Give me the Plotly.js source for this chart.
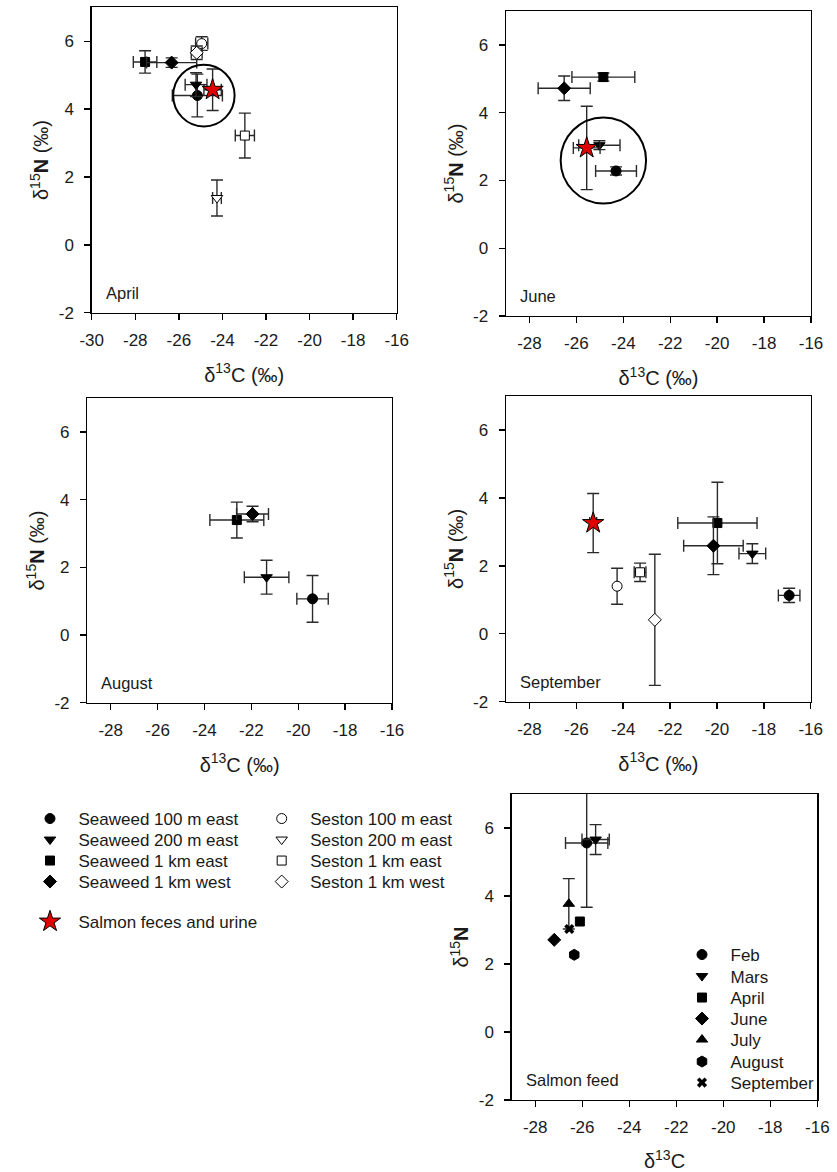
<!DOCTYPE html>
<html>
<head>
<meta charset="utf-8">
<script src="https://cdn.plot.ly/plotly-3.0.1.min.js"></script>
<style>html,body{margin:0;padding:0;background:#fff;}#chart{width:837px;height:1172px;}</style>
</head>
<body>
<div id="chart"></div>
<script>
// ---------- DATA ----------
const siteNames = ['Seaweed 100 m east','Seaweed 200 m east','Seaweed 1 km east','Seaweed 1 km west',
                   'Seston 100 m east','Seston 200 m east','Seston 1 km east','Seston 1 km west',
                   'Salmon feces and urine'];
// order of values in each panel array follows siteNames; null = not sampled
const aprilC   = [-25.15, -25.21, -27.55, -26.33, -24.95, -24.25, -22.97, -25.18, -24.45];
const aprilN   = [  4.40,   4.72,   5.39,   5.37,   5.93,   1.38,   3.22,   5.66,   4.57];
const aprilCsd = [  1.15,   0.50,   0.54,   1.15,   0.28,   0.20,   0.44,   0.25,   0.40];
const aprilNsd = [  0.63,   0.35,   0.33,   0.14,   0.20,   0.53,   0.66,   0.20,   0.61];

const juneC    = [-24.31, -25.02, -24.85, -26.52, null, null, null, null, -25.56];
const juneN    = [  2.28,   3.04,   5.05,   4.72, null, null, null, null,   2.96];
const juneCsd  = [  0.87,   0.88,   1.34,   1.11, null, null, null, null,   0.57];
const juneNsd  = [  0.12,   0.13,   0.12,   0.36, null, null, null, null,   1.23];

const augC     = [-19.39, -21.35, -22.62, -21.95, null, null, null, null, null];
const augN     = [  1.07,   1.71,   3.40,   3.58, null, null, null, null, null];
const augCsd   = [  0.67,   0.95,   1.15,   0.68, null, null, null, null, null];
const augNsd   = [  0.69,   0.50,   0.53,   0.23, null, null, null, null, null];

const sepC     = [-16.92, -18.49, -19.98, -20.15, -24.26, null, -23.28, -22.65, -25.28];
const sepN     = [  1.13,   2.36,   3.26,   2.59,   1.40, null,   1.81,   0.41,   3.26];
const sepCsd   = [  0.46,   0.57,   1.69,   1.27,   0.00, null,   0.25,   0.00,   0.15];
const sepNsd   = [  0.21,   0.29,   1.20,   0.85,   0.53, null,   0.27,   1.93,   0.87];

const feedMonths = ['Feb','Mars','April','June','July','August','September'];
const feedC      = [-25.81, -25.43, -26.10, -27.19, -26.57, -26.34, -26.55];
const feedN      = [  5.56,   5.66,   3.25,   2.71,   3.77,   2.27,   3.03];
const feedCsd    = [  0.90,   0.58,   0,      0,      0,      0,      0   ];
const feedNsd    = [  1.89,   0.44,   0,      0,      0.74,   0,      0   ];

const panelLabels = ['April','June','August','September','Salmon feed'];
const xTickVals = [-30,-28,-26,-24,-22,-20,-18,-16];
const xTickText = ['-30','-28','-26','-24','-22','-20','-18','-16'];
const yTickVals = [-2,0,2,4,6];
const yTickText = ['-2','0','2','4','6'];

// encircled groups (center C, center N, radius C, radius N)
const circleApril = [-24.85, 4.40, 1.41, 0.91];
const circleJune  = [-24.85, 2.59, 1.82, 1.27];

// ---------- STYLE ----------
const W = 837, H = 1172;
const FONT = 'Liberation Sans, Arial, sans-serif';
const siteSymbols = ['circle','triangle-down','square','diamond','circle','triangle-down','square','diamond','star'];
const siteFill    = ['#000','#000','#000','#000','#fff','#fff','#fff','#fff','#e00000'];
const siteSize    = [10,10,9,10,10,10,9,10,16];
const feedSymbols = ['circle','triangle-down','square','diamond','triangle-up','hexagon','x'];
const feedSize    = [10,10,9,10,10,11,9];
// legend symbol positions (px): [symbolX, rowY]
const siteLegPos = [[50,819],[50,840],[50,861],[50,882],[281.7,819],[281.7,840],[281.7,861],[281.7,882],[50,922]];
const feedLegPos = [[702,955],[702,976.5],[702,998],[702,1019],[702,1040],[702,1062],[702,1083]];

// panel boxes in pixels: [left, right, top, bottom]
const boxes = [[91.7,396.7,7.3,312.7],[506,811,11,316],[87.3,392,398.3,702.7],[506,810.7,396,701.7],[511.7,817.3,794,1100]];
const xRanges = [[-30,-16],[-29,-16],[-29,-16],[-29,-16],[-29,-16]];
const ytitles = ['δ<sup>15</sup><b>N</b> (‰)','δ<sup>15</sup><b>N</b> (‰)','δ<sup>15</sup><b>N</b> (‰)','δ<sup>15</sup><b>N</b> (‰)','δ<sup>15</sup><b>N</b>'];
const xtitles = ['δ<sup>13</sup>C (‰)','δ<sup>13</sup>C (‰)','δ<sup>13</sup>C (‰)','δ<sup>13</sup>C (‰)','δ<sup>13</sup>C'];

const traces = [];
const shown = {};
const panels = [[aprilC,aprilN,aprilCsd,aprilNsd],[juneC,juneN,juneCsd,juneNsd],[augC,augN,augCsd,augNsd],[sepC,sepN,sepCsd,sepNsd]];
const ebColor = '#2a2a2a';
const legId = k => k === 0 ? 'legend' : 'legend' + (k + 1);
panels.forEach((p, pi) => {
  const ax = pi === 0 ? '' : String(pi+1);
  siteNames.forEach((name, si) => {
    if (p[0][si] === null) return;
    const first = !shown[name];
    shown[name] = true;
    traces.push({
      type: 'scatter', mode: 'markers', name: name,
      x: [p[0][si]], y: [p[1][si]],
      xaxis: 'x' + ax, yaxis: 'y' + ax,
      legend: legId(si), legendgroup: name, showlegend: first,
      error_x: {type: 'data', array: [p[2][si]], visible: p[2][si] > 0, color: ebColor, thickness: 1.4, width: 6},
      error_y: {type: 'data', array: [p[3][si]], visible: p[3][si] > 0, color: ebColor, thickness: 1.4, width: 6},
      marker: {symbol: siteSymbols[si], size: siteSize[si], color: siteFill[si], line: {color: '#000', width: 1}}
    });
  });
});
feedMonths.forEach((m, i) => {
  traces.push({
    type: 'scatter', mode: 'markers', name: m,
    x: [feedC[i]], y: [feedN[i]], xaxis: 'x5', yaxis: 'y5', legend: legId(siteNames.length + i),
    error_x: {type: 'data', array: [feedCsd[i]], visible: feedCsd[i] > 0, color: ebColor, thickness: 1.4, width: 6},
    error_y: {type: 'data', array: [feedNsd[i]], visible: feedNsd[i] > 0, color: ebColor, thickness: 1.4, width: 6},
    marker: {symbol: feedSymbols[i], size: feedSize[i], color: '#000', line: {color: '#000', width: m === 'September' ? 0 : 1}}
  });
});

const layout = {
  width: W, height: H,
  margin: {l: 0, r: 0, t: 0, b: 0},
  paper_bgcolor: '#fff', plot_bgcolor: '#fff',
  font: {family: FONT, size: 17, color: '#1a1a1a'},
  showlegend: true,
  shapes: [], annotations: []
};
boxes.forEach((b, i) => {
  const ax = i === 0 ? '' : String(i+1);
  layout['xaxis' + ax] = {
    domain: [b[0]/W, b[1]/W], range: xRanges[i], anchor: 'y' + ax,
    tickvals: xTickVals, ticktext: xTickText, ticks: 'outside', ticklen: 6, tickwidth: 1.4, tickcolor: '#000',
    ticklabelstandoff: 5,
    showline: true, linecolor: '#000', linewidth: 1.4, mirror: true,
    showgrid: false, zeroline: false, tickfont: {size: 17},
    title: {text: xtitles[i], font: {size: 20}, standoff: 19}
  };
  layout['yaxis' + ax] = {
    domain: [1 - b[3]/H, 1 - b[2]/H], range: [-2, 7], anchor: 'x' + ax,
    tickvals: yTickVals, ticktext: yTickText, ticks: 'outside', ticklen: 6, tickwidth: 1.4, tickcolor: '#000',
    ticklabelstandoff: 7,
    showline: true, linecolor: '#000', linewidth: 1.4, mirror: true,
    showgrid: false, zeroline: false, tickfont: {size: 17},
    title: {text: ytitles[i], font: {size: 20}, standoff: 4}
  };
  layout.annotations.push({
    text: panelLabels[i], xref: 'x' + ax + ' domain', yref: 'y' + ax + ' domain',
    x: 0.04, y: 0.065, xanchor: 'left', yanchor: 'middle', showarrow: false, font: {size: 16.5}
  });
});
[[circleApril, ''], [circleJune, '2']].forEach(([c, ax]) => {
  layout.shapes.push({type: 'circle', xref: 'x' + ax, yref: 'y' + ax,
    x0: c[0]-c[2], x1: c[0]+c[2], y0: c[1]-c[3], y1: c[1]+c[3], line: {color: '#000', width: 2}});
});
const legBase = {bgcolor: 'rgba(0,0,0,0)', borderwidth: 0, font: {size: 17}, xanchor: 'left', yanchor: 'middle', itemwidth: 47};
siteLegPos.concat(feedLegPos).forEach((pos, k) => {
  layout[legId(k)] = Object.assign({}, legBase, {x: (pos[0] - 28.5)/W, y: 1 - pos[1]/H});
});

Plotly.newPlot('chart', traces, layout, {displayModeBar: false, staticPlot: true});
</script>
</body>
</html>
